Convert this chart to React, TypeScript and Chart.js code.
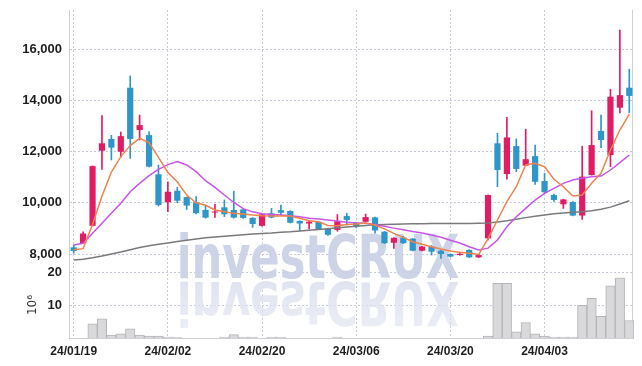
import React, { useEffect, useRef } from 'react';
import { Chart, registerables } from 'chart.js';

Chart.register(...registerables);

const dates = [
  '24/01/19', '24/01/22', '24/01/23', '24/01/24', '24/01/25', '24/01/26', '24/01/29', '24/01/30', '24/01/31', '24/02/01',
  '24/02/02', '24/02/05', '24/02/06', '24/02/07', '24/02/08', '24/02/13', '24/02/14', '24/02/15', '24/02/16', '24/02/19',
  '24/02/20', '24/02/21', '24/02/22', '24/02/23', '24/02/26', '24/02/27', '24/02/28', '24/02/29', '24/03/04', '24/03/05',
  '24/03/06', '24/03/07', '24/03/08', '24/03/11', '24/03/12', '24/03/13', '24/03/14', '24/03/15', '24/03/18', '24/03/19',
  '24/03/20', '24/03/21', '24/03/22', '24/03/25', '24/03/26', '24/03/27', '24/03/28', '24/03/29', '24/04/01', '24/04/02',
  '24/04/03', '24/04/04', '24/04/05', '24/04/08', '24/04/09', '24/04/11', '24/04/12', '24/04/15', '24/04/16', '24/04/17',
];

const opens = [
  8260, 8420, 9100, 12030, 12490, 11990, 14490, 12840, 12640, 11110,
  10020, 10470, 10220, 10020, 9720, 9620, 9820, 9720, 9740, 9410,
  9100, 9590, 9710, 9680, 9290, 9190, 9260, 9000, 8940, 9480,
  9220, 9260, 9430, 8870, 8440, 8640, 8600, 8130, 8290, 8130,
  8000, 7960, 8160, 7870, 8610, 12320, 11120, 12210, 11450, 11820,
  10850, 10300, 9940, 10030, 9500, 11080, 12800, 11860, 13710, 14490,
];
const highs = [
  8350, 8870, 11440, 13400, 12630, 12760, 14950, 13420, 12770, 11470,
  10820, 10600, 10230, 10240, 9910, 9940, 10110, 10450, 9760, 9420,
  9560, 9780, 9910, 9690, 9300, 9280, 9280, 9010, 9540, 9590,
  9240, 9560, 9440, 8880, 8640, 8700, 8610, 8300, 8330, 8140,
  8010, 8020, 8170, 7970, 10310, 12710, 13330, 12490, 12870, 12250,
  11150, 10340, 10140, 10050, 12210, 13590, 13420, 14430, 16740, 15210,
];
const lows = [
  8030, 8400, 9090, 11300, 11670, 11770, 11730, 12450, 11400, 9870,
  9650, 10000, 9740, 9560, 9400, 9430, 9460, 9400, 9390, 9040,
  9090, 9410, 9520, 9210, 8900, 8980, 8950, 8730, 8890, 9130,
  9020, 9250, 8810, 8410, 8220, 8410, 8120, 8120, 7960, 7830,
  7880, 7950, 7860, 7860, 8550, 10630, 10920, 11210, 11450, 10720,
  10370, 10050, 9780, 9490, 9350, 11080, 12150, 11410, 13510, 13510,
];
const closes = [
  8120, 8800, 11430, 12320, 12150, 12600, 12490, 13030, 11410, 9910,
  10430, 10080, 9890, 9590, 9420, 9660, 9550, 9420, 9410, 9170,
  9550, 9420, 9610, 9220, 9190, 9260, 8960, 8750, 9280, 9330,
  9070, 9440, 8920, 8420, 8630, 8420, 8130, 8290, 8090, 8000,
  7900, 8010, 7870, 7960, 10300, 11280, 12550, 11320, 11700, 10820,
  10410, 10110, 10130, 9500, 11020, 12250, 12450, 14140, 14200, 14170,
];

// volume in millions of shares
const volumes = [
  0, 0, 4.3, 5.8, 0.9, 1.3, 2.8, 0.9, 0.6, 0.6,
  0.3, 0.1, 0, 0, 0, 0, 0.3, 1.0, 0.3, 0.3,
  0, 0.3, 0.3, 0, 0, 0, 0, 0, 0.3, 0,
  0, 0, 0, 0, 0, 0, 0, 0, 0, 0,
  0, 0, 0, 0, 0.6, 16.6, 16.6, 1.9, 4.7, 1.3,
  0.6, 0.3, 0.3, 0.3, 9.9, 12.0, 6.6, 15.8, 18.2, 5.3,
];

const maShort = [
  8170, 8210, 9150, 10250, 11200, 11800, 12230, 12514, 12350, 11770,
  11180, 10820, 10300, 10000, 9900, 9717, 9650, 9590, 9560, 9520,
  9495, 9483, 9480, 9480, 9392, 9300, 9260, 9110, 9100, 9150,
  9170, 9210, 9130, 8980, 8807, 8651, 8480, 8378, 8285, 8195,
  8117, 8066, 8027, 7980, 8600, 9327, 10041, 10626, 11473, 11539,
  11407, 10915, 10626, 10263, 10302, 10758, 11149, 12058, 12839, 13463,
];
const maMid = [
  8350, 8420, 8807, 9198, 9588, 9978, 10431, 10758, 11060, 11305,
  11490, 11610, 11473, 11213, 10860, 10602, 10302, 10010, 9770, 9645,
  9575, 9540, 9520, 9490, 9456, 9392, 9366, 9327, 9288, 9240,
  9215, 9196, 9150, 9080, 9010, 8950, 8880, 8820, 8740, 8651,
  8540, 8430, 8285, 8156, 8230, 8546, 9066, 9456, 9783, 10107,
  10368, 10563, 10758, 10888, 10953, 11016, 11043, 11278, 11563, 11863,
];
const maLong = [
  7770, 7800, 7850, 7920, 8000, 8080, 8170, 8250, 8320, 8380,
  8430, 8490, 8540, 8590, 8630, 8660, 8690, 8720, 8750, 8780,
  8800, 8820, 8850, 8870, 8900, 8930, 8960, 8990, 9020, 9050,
  9080, 9110, 9140, 9150, 9160, 9170, 9180, 9185, 9190, 9190,
  9195, 9195, 9195, 9200, 9210, 9250, 9300, 9360, 9420, 9470,
  9520, 9570, 9600, 9630, 9650, 9690, 9750, 9830, 9950, 10080,
];

const priceTicks = [8000, 10000, 12000, 14000, 16000];
const volumeTicks = [10, 20];
const dateTicks = ['24/01/19', '24/02/02', '24/02/20', '24/03/06', '24/03/20', '24/04/03'];

const UP = '#e11c64';
const DOWN = '#2e96c8';
const GRID = '#c8cadf';
const AXIS = '#cfcfd6';
const TICK_FONT = "'Liberation Sans', Arial, sans-serif";
const MARK_FONT = "'DejaVu Sans Condensed', 'DejaVu Sans', sans-serif";

const watermark = {
  id: 'watermark',
  beforeDatasetsDraw(chart: any) {
    const ctx = chart.ctx;
    const x = 310;
    const y = 270;
    const sx = 0.8;
    ctx.save();
    ctx.font = `bold 60px ${MARK_FONT}`;
    ctx.textAlign = 'center';
    ctx.textBaseline = 'alphabetic';
    ctx.translate(x, y);
    ctx.scale(sx, 1);
    ctx.fillStyle = 'rgba(200,207,230,0.9)';
    ctx.fillText('investCRUX', 0, 0);
    ctx.translate(0, 4);
    ctx.scale(1, -1);
    const g = ctx.createLinearGradient(0, 0, 0, -46);
    g.addColorStop(0, 'rgba(222,226,240,0.95)');
    g.addColorStop(1, 'rgba(222,226,240,0.6)');
    ctx.fillStyle = g;
    ctx.fillText('investCRUX', 0, 0);
    ctx.restore();
    const a = chart.chartArea;
    ctx.save();
    ctx.strokeStyle = AXIS;
    ctx.lineWidth = 1;
    ctx.beginPath();
    ctx.moveTo(a.right - 1.5, a.top);
    ctx.lineTo(a.right - 1.5, a.bottom);
    ctx.stroke();
    ctx.restore();
  },
};

const fitY = (s: any) => {
  s.width = 61;
  s.paddingTop = 0;
  s.paddingBottom = 0;
};

export default function App() {
  const ref = useRef<HTMLCanvasElement | null>(null);
  useEffect(() => {
    if (!ref.current) return;
    const colors = opens.map((o, i) => (closes[i] >= o ? UP : DOWN));
    const chart = new Chart(ref.current, {
      type: 'bar',
      data: {
        labels: dates,
        datasets: [
          { type: 'line', data: maShort, borderColor: '#f0824c', borderWidth: 1.5, pointRadius: 0, yAxisID: 'y', order: 0 } as any,
          { type: 'line', data: maMid, borderColor: '#c855e6', borderWidth: 1.5, pointRadius: 0, yAxisID: 'y', order: 0 } as any,
          { type: 'line', data: maLong, borderColor: '#7a7a7a', borderWidth: 1.5, pointRadius: 0, yAxisID: 'y', order: 0 } as any,
          {
            type: 'bar', data: opens.map((o, i) => [o, closes[i]]), backgroundColor: colors,
            barPercentage: 0.66, categoryPercentage: 1, grouped: false, yAxisID: 'y', order: 1,
          } as any,
          {
            type: 'bar', data: lows.map((l, i) => [l, highs[i]]), backgroundColor: colors,
            barThickness: 1, grouped: false, yAxisID: 'y', order: 2,
          } as any,
          {
            type: 'bar', data: volumes, backgroundColor: '#d9d9db', borderColor: '#b4b4b8', borderWidth: 1,
            barPercentage: 1, categoryPercentage: 1, grouped: false, yAxisID: 'yv', order: 3,
          } as any,
        ],
      },
      options: {
        animation: false,
        responsive: false,
        events: [],
        layout: { padding: { top: 2, right: 0, left: 0, bottom: 0 } },
        plugins: { legend: { display: false }, tooltip: { enabled: false }, title: { display: false } },
        scales: {
          x: {
            type: 'category',
            offset: true,
            grid: { color: GRID, drawTicks: false, offset: false },
            border: { display: true, color: AXIS, dash: [2, 2] },
            ticks: { autoSkip: false, maxRotation: 0, padding: 6, color: '#1e1e1e', font: { family: TICK_FONT, size: 12, weight: 'bold' } },
            afterBuildTicks: (s: any) => { s.ticks = s.ticks.filter((t: any) => dateTicks.includes(dates[t.value])); },
            afterFit: (s: any) => { s.height = 20; },
          },
          yv: {
            type: 'linear',
            position: 'left',
            stack: 'panel',
            stackWeight: 66,
            min: 0,
            max: 20,
            grid: { color: GRID, drawTicks: false },
            border: { display: true, color: AXIS, dash: [2, 2] },
            ticks: { autoSkip: false, padding: 7, color: '#1e1e1e', font: { family: TICK_FONT, size: 13, weight: 'bold' } },
            title: { display: true, text: '10⁶', color: '#333', font: { family: "'DejaVu Sans', sans-serif", size: 12 }, padding: { top: 18, bottom: 0 } },
            afterBuildTicks: (s: any) => { s.ticks = volumeTicks.map((v) => ({ value: v })); },
            afterFit: fitY,
          },
          y: {
            type: 'linear',
            position: 'left',
            stack: 'panel',
            stackWeight: 262,
            min: 7298,
            max: 17522,
            grid: { color: GRID, drawTicks: false },
            border: { display: true, color: AXIS, dash: [2, 2] },
            ticks: {
              autoSkip: false, padding: 7, color: '#1e1e1e', font: { family: TICK_FONT, size: 13, weight: 'bold' },
              callback: (v: any) => Number(v).toLocaleString('en-US'),
            },
            afterBuildTicks: (s: any) => { s.ticks = priceTicks.map((v) => ({ value: v })); },
            afterFit: fitY,
          },
        },
      } as any,
      plugins: [watermark],
    });
    return () => chart.destroy();
  }, []);
  return <canvas ref={ref} width={626} height={350} style={{ display: 'block' }} />;
}
